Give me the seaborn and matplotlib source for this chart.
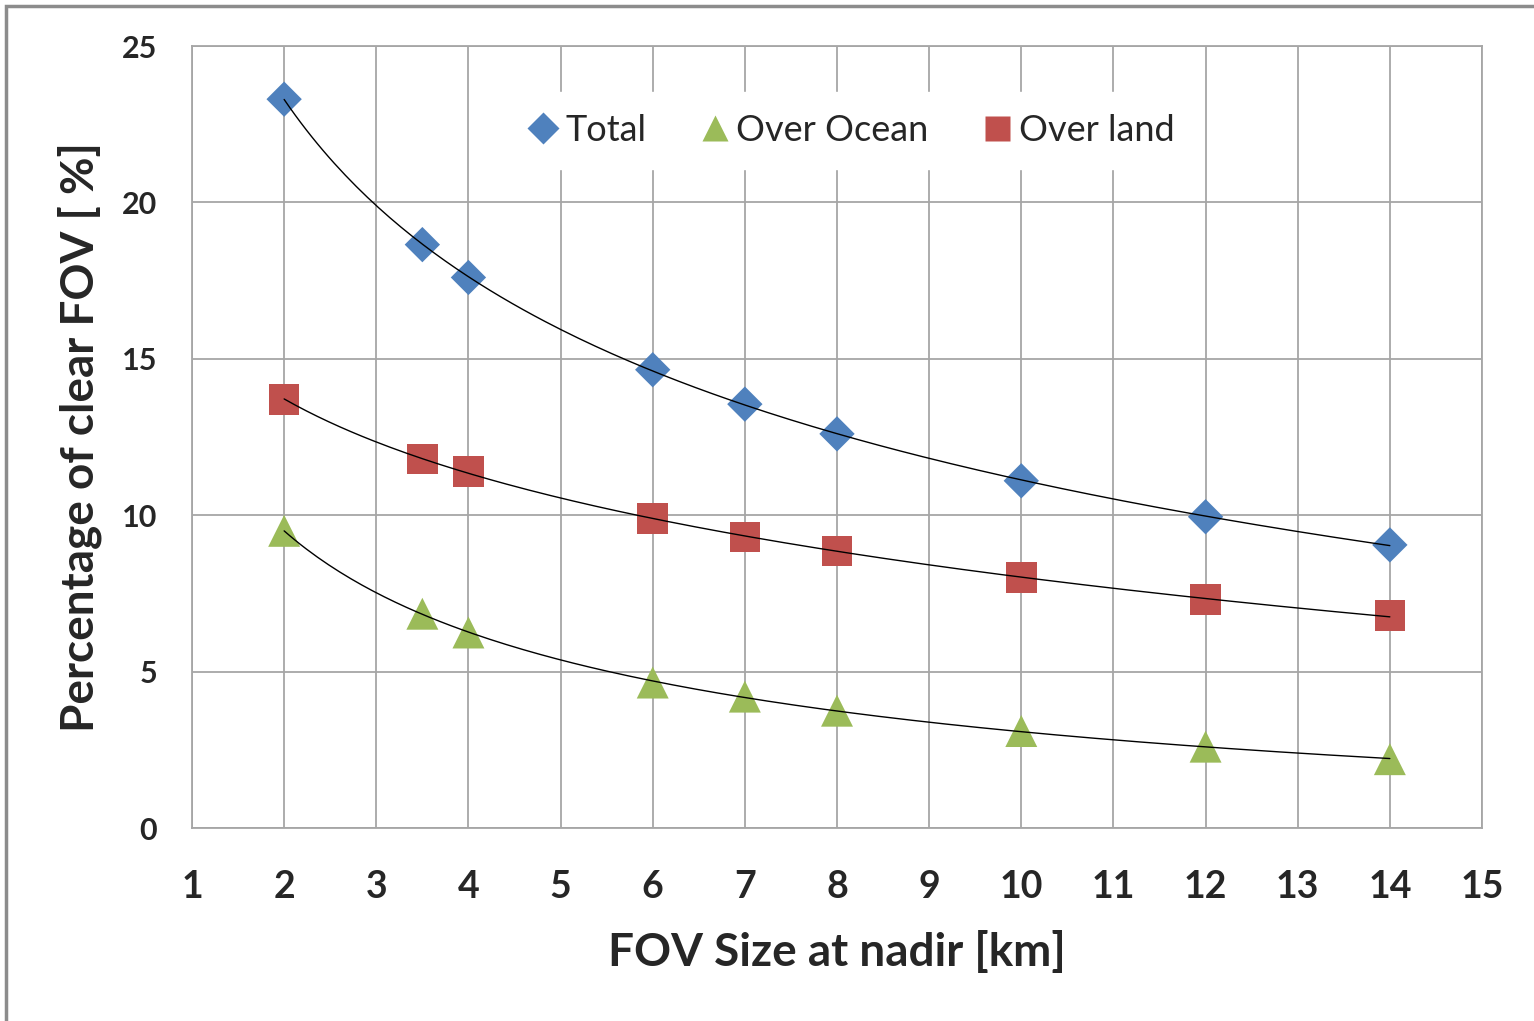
import numpy as np
import pandas as pd
import matplotlib.pyplot as plt
import seaborn as sns
from matplotlib.lines import Line2D
from matplotlib.patches import Rectangle

fov_km = [2, 3.5, 4, 6, 7, 8, 10, 12, 14]
total = [23.3, 18.65, 17.6, 14.65, 13.55, 12.6, 11.1, 9.95, 9.05]
over_ocean = [9.5, 6.85, 6.25, 4.65, 4.2, 3.75, 3.1, 2.6, 2.2]
over_land = [13.7, 11.8, 11.4, 9.9, 9.3, 8.85, 8.0, 7.3, 6.8]

series_names = ["Total", "Over Ocean", "Over land"]
colors = {"Total": "#4F81BD", "Over Ocean": "#9BBB59", "Over land": "#C0504D"}
markers = {"Total": "D", "Over Ocean": "^", "Over land": "s"}
sizes = {"Total": 18, "Over Ocean": 23, "Over land": 22}

sns.set_theme(style="whitegrid")
plt.rcParams["font.family"] = ["Lato", "DejaVu Sans"]

df = pd.DataFrame({
    "FOV": fov_km * 3,
    "Pct": total + over_ocean + over_land,
    "Series": ["Total"] * 9 + ["Over Ocean"] * 9 + ["Over land"] * 9,
})

fig = plt.figure(figsize=(15.34, 10.21), dpi=100)
ax = fig.add_axes([192 / 1534, 1 - 828 / 1021, 1290 / 1534, 782 / 1021])

for name in series_names:
    sub = df[df["Series"] == name]
    sns.scatterplot(
        data=sub, x="FOV", y="Pct", marker=markers[name], color=colors[name],
        s=sizes[name] ** 2, edgecolor="none", ax=ax, zorder=3, legend=False,
    )

# smooth trend lines fitted against log(x)
for name in series_names:
    sub = df[df["Series"] == name]
    coef = np.polyfit(np.log(sub["FOV"]), sub["Pct"], 2)
    xs = np.linspace(min(fov_km), max(fov_km), 200)
    fit = pd.DataFrame({"FOV": xs, "Pct": np.polyval(coef, np.log(xs))})
    sns.lineplot(data=fit, x="FOV", y="Pct", color="black", linewidth=1.0,
                 ax=ax, zorder=4, estimator=None, errorbar=None)

ax.set_xlim(1, 15)
ax.set_ylim(0, 25)
ax.set_xticks(range(1, 16))
ax.set_yticks(range(0, 26, 5))
ax.grid(True, color="#a6a6a6", linewidth=1.3)
for sp in ax.spines.values():
    sp.set_color("#a6a6a6")
    sp.set_linewidth(1.3)
ax.tick_params(axis="x", length=0, pad=30, labelsize=27)
ax.tick_params(axis="y", length=0, pad=25, labelsize=22)
for lab in ax.get_xticklabels() + ax.get_yticklabels():
    lab.set_fontweight("bold")

ax.set_xlabel("FOV Size at nadir [km]", fontsize=33, fontweight="bold", labelpad=20)
ax.set_ylabel("Percentage of clear FOV [ %]", fontsize=33, fontweight="bold", labelpad=14)

handles = [
    Line2D([], [], linestyle="none", marker=markers[n], color=colors[n],
           markersize=s, markeredgecolor="none")
    for n, s in zip(series_names, [16, 19, 18])
]
leg = ax.legend(handles, series_names, loc="center", bbox_to_anchor=(0.51, 0.892),
                ncol=3, frameon=True, fontsize=26, handletextpad=0.1,
                columnspacing=1.4, handlelength=1.0, borderpad=0.6)
leg.get_frame().set_facecolor("white")
leg.get_frame().set_edgecolor("white")
leg.get_frame().set_alpha(1.0)

fig.patches.append(Rectangle((6 / 1534, -0.05), 1.1, 1 - 6 / 1021 + 0.05,
                             transform=fig.transFigure, fill=False,
                             edgecolor="#8c8c8c", linewidth=2.5))

fig.savefig("out.png", dpi=100)
